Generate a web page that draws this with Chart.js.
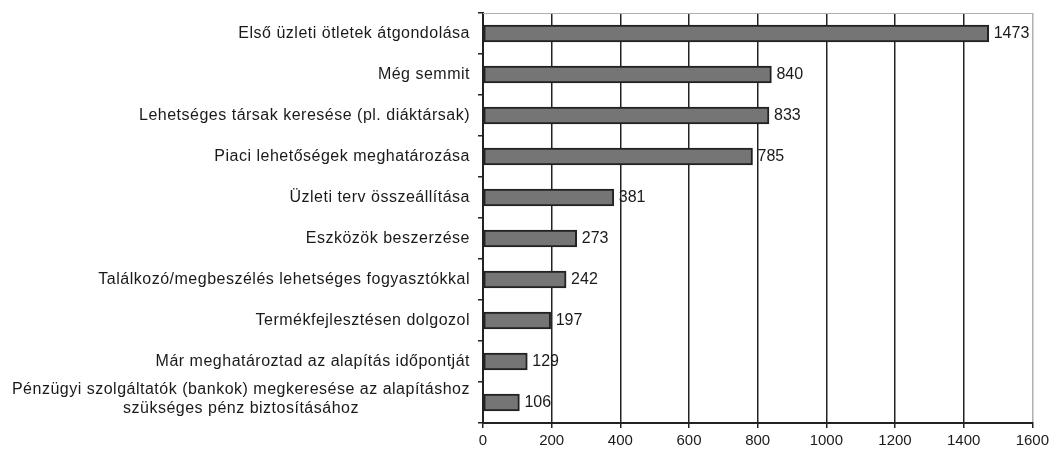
<!DOCTYPE html>
<html>
<head>
<meta charset="utf-8">
<script src="https://cdn.jsdelivr.net/npm/chart.js@4.4.0/dist/chart.umd.min.js"></script>
<style>
  body { margin: 0; background: #fff; }
  #wrap { width: 1053px; height: 452px; position: relative; }
</style>
</head>
<body>
<div id="wrap"><canvas id="chart"></canvas></div>
<script>
// Categories (top to bottom) and counts
const categories = [
    'Első üzleti ötletek átgondolása',
    'Még semmit',
    'Lehetséges társak keresése (pl. diáktársak)',
    'Piaci lehetőségek meghatározása',
    'Üzleti terv összeállítása',
    'Eszközök beszerzése',
    'Találkozó/megbeszélés lehetséges fogyasztókkal',
    'Termékfejlesztésen dolgozol',
    'Már meghatároztad az alapítás időpontját',
    ['Pénzügyi szolgáltatók (bankok) megkeresése az alapításhoz', 'szükséges pénz biztosításához']
];
const counts = [1473, 840, 833, 785, 381, 273, 242, 197, 129, 106];
const xTicks = [0, 200, 400, 600, 800, 1000, 1200, 1400, 1600];

const FONT = "'Liberation Sans', Arial, sans-serif";
const TEXT = '#1a1a1a';

// Category labels drawn by hand so the two-line label can be centred
const catLabels = {
    id: 'catLabels',
    afterDraw(chart) {
        const ctx = chart.ctx;
        const y = chart.scales.y;
        ctx.save();
        ctx.font = '16px ' + FONT;
        ctx.letterSpacing = '0.5px';
        ctx.fillStyle = TEXT;
        ctx.textBaseline = 'middle';
        const right = y.right - 13;
        categories.forEach(function(lab, i) {
            const py = y.getPixelForTick(i);
            if (Array.isArray(lab)) {
                const w = Math.max.apply(null, lab.map(function(s) { return ctx.measureText(s).width; }));
                const cx = right - w / 2;
                const lh = 19;
                ctx.textAlign = 'center';
                lab.forEach(function(s, j) {
                    ctx.fillText(s, cx, py - 3 + (j - (lab.length - 1) / 2) * lh);
                });
            } else {
                ctx.textAlign = 'right';
                ctx.fillText(lab, right, py);
            }
        });
        ctx.restore();
    }
};

// Value labels next to bars + light top border
const valueLabels = {
    id: 'valueLabels',
    afterDatasetsDraw(chart) {
        const ctx = chart.ctx;
        const area = chart.chartArea;
        ctx.save();
        ctx.strokeStyle = '#b0b0b0';
        ctx.lineWidth = 1;
        ctx.beginPath();
        ctx.moveTo(area.left, area.top + 0.5);
        ctx.lineTo(area.right, area.top + 0.5);
        ctx.stroke();

        ctx.font = '16px ' + FONT;
        ctx.fillStyle = TEXT;
        ctx.textAlign = 'left';
        ctx.textBaseline = 'middle';
        chart.getDatasetMeta(0).data.forEach(function(bar, i) {
            ctx.fillText(String(counts[i]), bar.x + 5, bar.y);
        });
        ctx.restore();
    }
};

new Chart(document.getElementById('chart'), {
    type: 'bar',
    data: {
        labels: categories,
        datasets: [{
            data: counts,
            backgroundColor: '#757575',
            borderColor: '#222',
            borderWidth: 2,
            borderSkipped: false,
            barThickness: 17
        }]
    },
    options: {
        indexAxis: 'y',
        responsive: true,
        maintainAspectRatio: false,
        animation: false,
        layout: { padding: { top: 13, right: 18, left: 0, bottom: 0 } },
        plugins: {
            legend: { display: false },
            tooltip: { enabled: false }
        },
        scales: {
            x: {
                min: 0,
                max: 1600,
                afterBuildTicks: function(scale) {
                    scale.ticks = xTicks.map(function(v) { return { value: v }; });
                },
                afterFit: function(scale) { scale.height = 29; },
                grid: {
                    color: function(c) { return c.tick && c.tick.value === 1600 ? '#b0b0b0' : '#222'; },
                    lineWidth: 1.5,
                    tickLength: 5,
                    tickColor: '#222'
                },
                border: { color: '#222', width: 2 },
                ticks: {
                    color: TEXT,
                    font: { family: FONT, size: 15 },
                    padding: 4,
                    maxRotation: 0,
                    callback: function(v) { return String(v); }
                }
            },
            y: {
                afterFit: function(scale) { scale.width = 483; },
                grid: {
                    drawOnChartArea: false,
                    drawTicks: true,
                    tickLength: 5,
                    color: '#222',
                    lineWidth: 1.5
                },
                border: { color: '#222', width: 2 },
                ticks: { display: false }
            }
        }
    },
    plugins: [catLabels, valueLabels]
});
</script>
</body>
</html>
